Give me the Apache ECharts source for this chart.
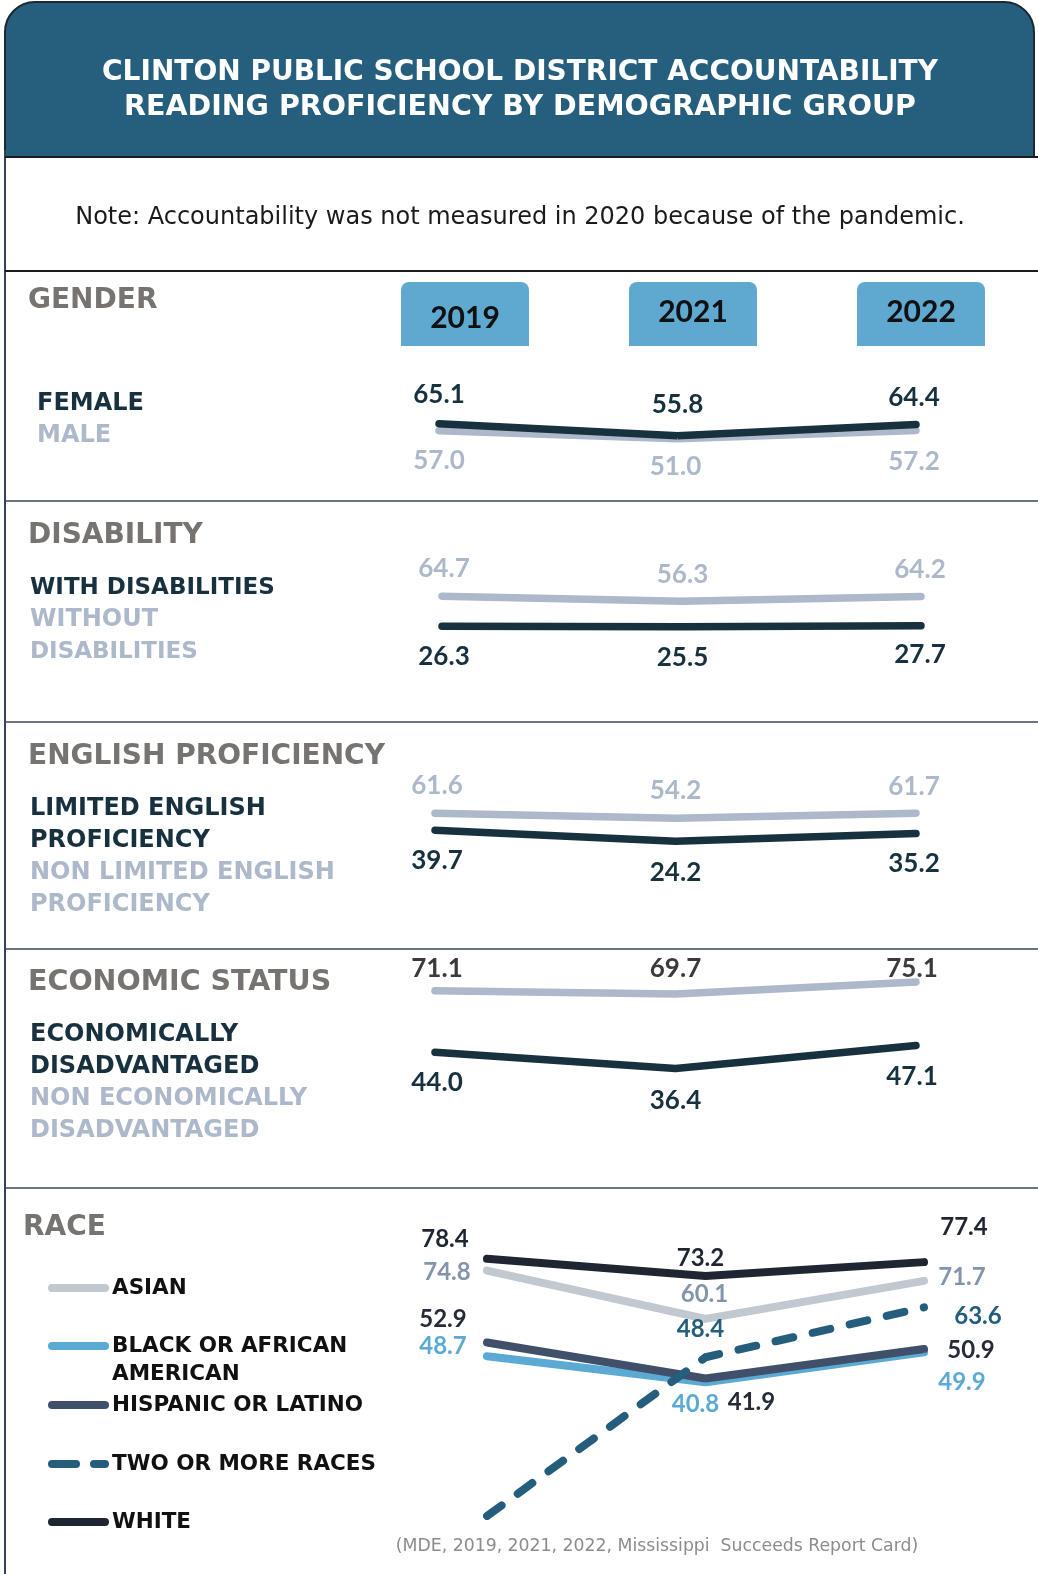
<!DOCTYPE html>
<html><head><meta charset="utf-8">
<script src="https://cdn.jsdelivr.net/npm/echarts@6/dist/echarts.min.js"></script>
<style>html,body{margin:0;padding:0;background:#fff}#c{width:1038px;height:1574px}</style>
</head><body><div id="c"></div><script>
// ---------- DATA ----------
const years = ['2019', '2021', '2022'];
const female = [65.1, 55.8, 64.4];
const male = [57.0, 51.0, 57.2];
const withDisabilities = [26.3, 25.5, 27.7];
const withoutDisabilities = [64.7, 56.3, 64.2];
const limitedEnglish = [39.7, 24.2, 35.2];
const nonLimitedEnglish = [61.6, 54.2, 61.7];
const econDisadvantaged = [44.0, 36.4, 47.1];
const nonEconDisadvantaged = [71.1, 69.7, 75.1];
const asian = [74.8, 60.1, 71.7];
const blackAfricanAmerican = [48.7, 40.8, 49.9];
const hispanicLatino = [52.9, 41.9, 50.9];
const twoOrMoreRaces = [0, 48.4, 63.6];
const white = [78.4, 73.2, 77.4];

// ---------- STYLE ----------
const DARK = '#17313f', LIGHT = '#adb8cb', HEAD = '#767371';
const C_ASIAN = '#c1c8d0', C_BLACK = '#5aaad4', C_HISP = '#40506a', C_WHITE = '#1f2631', C_TWO = '#245e7c';
const NUMFONT = 'Lato';
const TXTFONT = '"DejaVu Sans"';

// grid rectangles (layout only)
const layouts = {
  male:   {left: 439, right: 122, top: 373.3, height: 133.5},
  female: {left: 439, right: 122, top: 378.5, height: 129.5},
  without:{left: 442, right: 117, top: 575, height: 60},
  with:   {left: 442, right: 117, top: 589.5, height: 50},
  nonLim: {left: 435, right: 122, top: 787, height: 68.3},
  lim:    {left: 435, right: 122, top: 787.3, height: 71.3},
  nonEcon:{left: 435, right: 122, top: 927, height: 221},
  econ:   {left: 435, right: 122, top: 931.2, height: 216},
  race:   {left: 487, right: 114, top: 1188, height: 328}
};
const gridKeys = Object.keys(layouts);

function mkSeries(name, gridKey, values, color, width, labelColor, offsets, fontSize, lineType) {
  const gi = gridKeys.indexOf(gridKey);
  return {
    name, type: 'line', xAxisIndex: gi, yAxisIndex: gi,
    data: values.map((v, i) => ({
      value: v,
      label: offsets[i] ? {offset: offsets[i]} : {show: false}
    })),
    symbol: 'circle', symbolSize: 1, showSymbol: true,
    itemStyle: {color},
    lineStyle: {color, width, cap: 'round', join: 'round', type: lineType || 'solid'},
    label: {
      show: true, position: 'inside', color: labelColor,
      fontFamily: NUMFONT, fontWeight: 'bold', fontSize,
      formatter: p => Number(p.value).toFixed(1)
    },
    emphasis: {disabled: true}, silent: true, animation: false
  };
}

const series = [
  mkSeries('MALE', 'male', male, LIGHT, 7.5, LIGHT, [[0,30],[-2,28],[-2,31]], 26),
  mkSeries('FEMALE', 'female', female, DARK, 7.5, DARK, [[0,-29],[0,-31],[-2,-27]], 26),
  mkSeries('WITHOUT DISABILITIES', 'without', withoutDisabilities, LIGHT, 7.5, LIGHT, [[2,-28],[1,-27],[-1,-27]], 26),
  mkSeries('WITH DISABILITIES', 'with', withDisabilities, DARK, 7.5, DARK, [[2,30],[1,31],[-1,29]], 26),
  mkSeries('NON LIMITED ENGLISH PROFICIENCY', 'nonLim', nonLimitedEnglish, LIGHT, 7.5, LIGHT, [[2,-28],[0,-28],[-2,-27]], 26),
  mkSeries('LIMITED ENGLISH PROFICIENCY', 'lim', limitedEnglish, DARK, 7.5, DARK, [[2,30],[0,31],[-2,30]], 26),
  mkSeries('NON ECONOMICALLY DISADVANTAGED', 'nonEcon', nonEconDisadvantaged, LIGHT, 7.5, '#3b3b3b', [[2,-22],[0,-25],[-4,-13]], 26),
  mkSeries('ECONOMICALLY DISADVANTAGED', 'econ', econDisadvantaged, DARK, 7.5, DARK, [[2,30],[0,32],[-4,31]], 26),
  mkSeries('BLACK OR AFRICAN AMERICAN', 'race', blackAfricanAmerican, C_BLACK, 8, C_BLACK, [[-44,-10],[-10,22],[38,30]], 24),
  mkSeries('HISPANIC OR LATINO', 'race', hispanicLatino, C_HISP, 8, '#262b35', [[-44,-23],[46,24],[47,1]], 24),
  mkSeries('ASIAN', 'race', asian, C_ASIAN, 8, '#8394ad', [[-40,2],[-1,-25],[38,-4]], 24),
  mkSeries('WHITE', 'race', white, C_WHITE, 8, C_WHITE, [[-42,-20],[-5,-18],[40,-35]], 24),
  mkSeries('TWO OR MORE RACES', 'race', twoOrMoreRaces, C_TWO, 8, C_TWO, [null,[-5,-28],[54,9]], 24, [18, 20])
];

const grids = gridKeys.map(k => Object.assign({containLabel: false, show: false}, layouts[k]));
const xAxes = gridKeys.map((k, i) => ({type: 'category', gridIndex: i, data: years, boundaryGap: false, show: false}));
const yAxes = gridKeys.map((k, i) => ({type: 'value', gridIndex: i, min: 0, max: 100, show: false}));

// ---------- GRAPHICS ----------
const g = [];
function txt(text, x, y, font, fill, align) {
  g.push({type: 'text', silent: true, z: 10, style: {text, x, y, font, fill,
    align: align || 'left', verticalAlign: 'middle', textAlign: align || 'left', textVerticalAlign: 'middle'}});
}
function hline(y, color, w) {
  g.push({type: 'line', silent: true, z: 5, shape: {x1: 5, y1: y, x2: 1038, y2: y}, style: {stroke: color, lineWidth: w}});
}
// header
g.push({type: 'rect', silent: true, z: 4, shape: {x: 5, y: 2, width: 1029, height: 155, r: [30, 30, 0, 0]},
  style: {fill: '#265e7e', stroke: '#1b2733', lineWidth: 2}});
g.push({type: 'line', silent: true, z: 5, shape: {x1: 5, y1: 150, x2: 5, y2: 1574}, style: {stroke: '#34435a', lineWidth: 2}});
hline(157, '#1c1c1c', 2);
hline(271, '#1c1c1c', 2);
hline(501, '#3a4658', 1.5);
hline(722, '#3a4658', 1.5);
hline(949, '#3a4658', 1.5);
hline(1188, '#3a4658', 1.5);

txt('CLINTON PUBLIC SCHOOL DISTRICT ACCOUNTABILITY', 520, 73, 'bold 28px ' + TXTFONT, '#ffffff', 'center');
txt('READING PROFICIENCY BY DEMOGRAPHIC GROUP', 520, 108, 'bold 28.5px ' + TXTFONT, '#ffffff', 'center');
txt('Note: Accountability was not measured in 2020 because of the pandemic.', 520, 218, '24px ' + TXTFONT, '#1a1a1a', 'center');

// year boxes
const boxLeft = [401, 629, 857];
const yearTextY = [318, 312, 312];
years.forEach((yr, i) => {
  g.push({type: 'rect', silent: true, z: 6, shape: {x: boxLeft[i], y: 282, width: 128, height: 64, r: [8, 8, 0, 0]}, style: {fill: '#5fa8d0'}});
  txt(yr, boxLeft[i] + 64, yearTextY[i], 'bold 30px ' + NUMFONT, '#111111', 'center');
});

// section headings
const HFONT = 'bold 28px ' + TXTFONT;
txt('GENDER', 28, 301, HFONT, HEAD);
txt('DISABILITY', 28, 536, HFONT, HEAD);
txt('ENGLISH PROFICIENCY', 28, 757, HFONT, HEAD);
txt('ECONOMIC STATUS', 28, 983, 'bold 28.5px ' + TXTFONT, HEAD);
txt('RACE', 23, 1228, HFONT, HEAD);

// group names
const LFONT = 'bold 24px ' + TXTFONT;
txt('FEMALE', 37, 404, LFONT, DARK);
txt('MALE', 37, 436, LFONT, LIGHT);
txt('WITH DISABILITIES', 30, 588, 'bold 23px ' + TXTFONT, DARK);
txt('WITHOUT', 30, 620, LFONT, LIGHT);
txt('DISABILITIES', 30, 652, 'bold 23px ' + TXTFONT, LIGHT);
txt('LIMITED ENGLISH', 30, 809, LFONT, DARK);
txt('PROFICIENCY', 30, 841, LFONT, DARK);
txt('NON LIMITED ENGLISH', 30, 873, LFONT, LIGHT);
txt('PROFICIENCY', 30, 905, LFONT, LIGHT);
txt('ECONOMICALLY', 30, 1035, LFONT, DARK);
txt('DISADVANTAGED', 30, 1067, LFONT, DARK);
txt('NON ECONOMICALLY', 30, 1099, LFONT, LIGHT);
txt('DISADVANTAGED', 30, 1131, LFONT, LIGHT);

// race legend
const RFONT = 'bold 21.5px ' + TXTFONT;
const legendItems = [
  {label: 'ASIAN', y: 1288, color: C_ASIAN},
  {label: 'BLACK OR AFRICAN\nAMERICAN', y: 1346, color: C_BLACK},
  {label: 'HISPANIC OR LATINO', y: 1405, color: C_HISP},
  {label: 'TWO OR MORE RACES', y: 1464, color: C_TWO, dash: true},
  {label: 'WHITE', y: 1522, color: C_WHITE}
];
legendItems.forEach(it => {
  g.push({type: 'line', silent: true, z: 6, shape: {x1: 52, y1: it.y, x2: 105, y2: it.y},
    style: {stroke: it.color, lineWidth: 8, lineCap: 'round', lineDash: it.dash ? [24, 18] : null}});
  const lines = it.label.split('\n');
  lines.forEach((l, j) => txt(l, 112, it.y + j * 28, RFONT, '#111111'));
});

txt('(MDE, 2019, 2021, 2022, Mississippi  Succeeds Report Card)', 657, 1547, '17.3px ' + TXTFONT, '#8c8c8c', 'center');

const chart = echarts.init(document.getElementById('c'), null, {renderer: 'canvas'});
chart.setOption({
  animation: false,
  backgroundColor: '#ffffff',
  grid: grids, xAxis: xAxes, yAxis: yAxes,
  series,
  graphic: {elements: g}
});
</script></body></html>
